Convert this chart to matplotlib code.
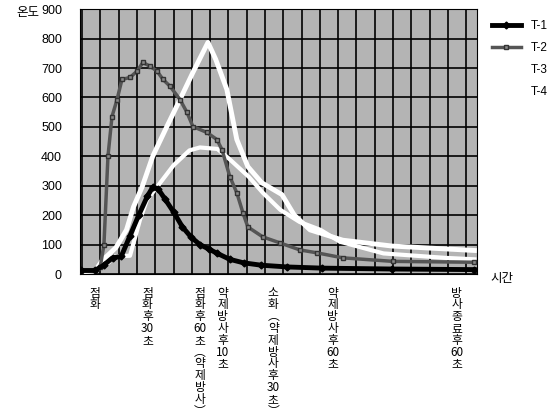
import numpy as np
import matplotlib.pyplot as plt
from matplotlib.ticker import FixedLocator

plt.rcParams['font.family'] = ['Liberation Sans', 'Noto Sans CJK KR', 'DejaVu Sans']

# time in seconds after ignition
t1 = [-8, 0, 5, 10, 15, 20, 25, 30, 33, 36, 40, 45, 50, 55, 60, 65, 70, 77, 85, 95, 110, 130, 170, 217]
T1 = [12, 12, 30, 55, 60, 130, 200, 265, 295, 290, 255, 210, 160, 125, 100, 85, 70, 50, 38, 30, 24, 20, 17, 15]

t2 = [-8, 0, 3, 5.1, 7.4, 9.7, 12.6, 15.4, 20, 24, 27.4, 31.4, 35.4, 38.9, 42.9, 48.6, 52.6, 56, 64,
      69.7, 72.6, 77.1, 81.1, 84.6, 87.4, 96, 105.7, 117.1, 126.9, 141.7, 170.3, 217]
T2 = [10, 12, 25, 100, 400, 535, 593, 661, 668, 689, 719, 706, 690, 661, 638, 593, 549, 501, 481,
      457, 423, 331, 276, 208, 160, 126, 106, 82, 72, 55, 43, 40]

t3 = [-8, 0, 4, 12, 18, 22, 27, 33, 41, 48.6, 56, 64.6, 69, 75.4, 81.1, 87.4, 95.4, 106.9, 114, 123, 141.7, 170, 217]
T3 = [8, 10, 45, 90, 150, 228, 297, 400, 500, 593, 685, 787, 730, 627, 457, 365, 310, 270, 200, 150, 115, 95, 80]

t4 = [-8, 0, 8, 10, 20, 25.7, 29.7, 36, 45, 54, 60, 70, 77, 88, 96, 106, 117, 129, 140, 165, 200, 217]
T4 = [8, 10, 40, 60, 62, 184, 252, 300, 370, 420, 430, 425, 390, 330, 276, 218, 177, 150, 110, 70, 55, 50]

tick_pos = [0, 30, 60, 73, 102, 136, 207]
tick_txt = ['점\n화',
            '점\n화\n후\n30\n초',
            '점\n화\n후\n60\n초\n︵\n약\n제\n방\n사\n︶',
            '약\n제\n방\n사\n후\n10\n초',
            '소\n화\n︵\n약\n제\n방\n사\n후\n30\n초\n︶',
            '약\n제\n방\n사\n후\n60\n초',
            '방\n사\n종\n료\n후\n60\n초']

fig = plt.figure(figsize=(5.54, 4.16), dpi=100)
ax = fig.add_axes([0.1444, 0.3413, 0.7166, 0.6367])
ax.set_facecolor('#b4b4b4')

ax.plot(t4, T4, color='white', lw=3, label='T-4', zorder=3)
ax.plot(t3, T3, color='white', lw=3.5, label='T-3', zorder=3)
ax.plot(t2, T2, color='#555555', lw=2.5, marker='s', ms=3.5, mfc='#888888', mec='#333333', label='T-2', zorder=4)
ax.plot(t1, T1, color='black', lw=3.5, marker='D', ms=3.5, label='T-1', zorder=5)

ax.set_xlim(-8.6, 218.5)
ax.set_ylim(0, 900)
ax.set_yticks(range(0, 901, 100))
ax.xaxis.set_minor_locator(FixedLocator(np.arange(-7.4, 218, 10.46)))
ax.grid(True, which='minor', axis='x', color='black', lw=1.2)
ax.grid(True, which='major', axis='y', color='black', lw=1.2)
ax.set_axisbelow(True)
for s in ax.spines.values():
    s.set_color('black')

ax.set_xticks(tick_pos)
ax.set_xticklabels(tick_txt, fontfamily=['Noto Sans CJK KR', 'DejaVu Sans'], fontsize=8.5,
                   linespacing=0.88, va='top')
ax.tick_params(axis='x', which='both', length=0, pad=9)
ax.tick_params(axis='y', length=0, pad=13, labelsize=9)

fig.text(0.03, 0.97, '온도', fontsize=9, fontfamily=['Noto Sans CJK KR'], va='center')
fig.text(0.885, 0.33, '시간', fontsize=9, fontfamily=['Noto Sans CJK KR'], va='center')

h, l = ax.get_legend_handles_labels()
order = [3, 2, 1, 0]
ax.legend([h[i] for i in order], [l[i] for i in order], loc='upper left', bbox_to_anchor=(1.01, 1.0),
          frameon=False, fontsize=8.5, handlelength=2.5, labelspacing=0.85)

fig.savefig('out.png', dpi=100)
